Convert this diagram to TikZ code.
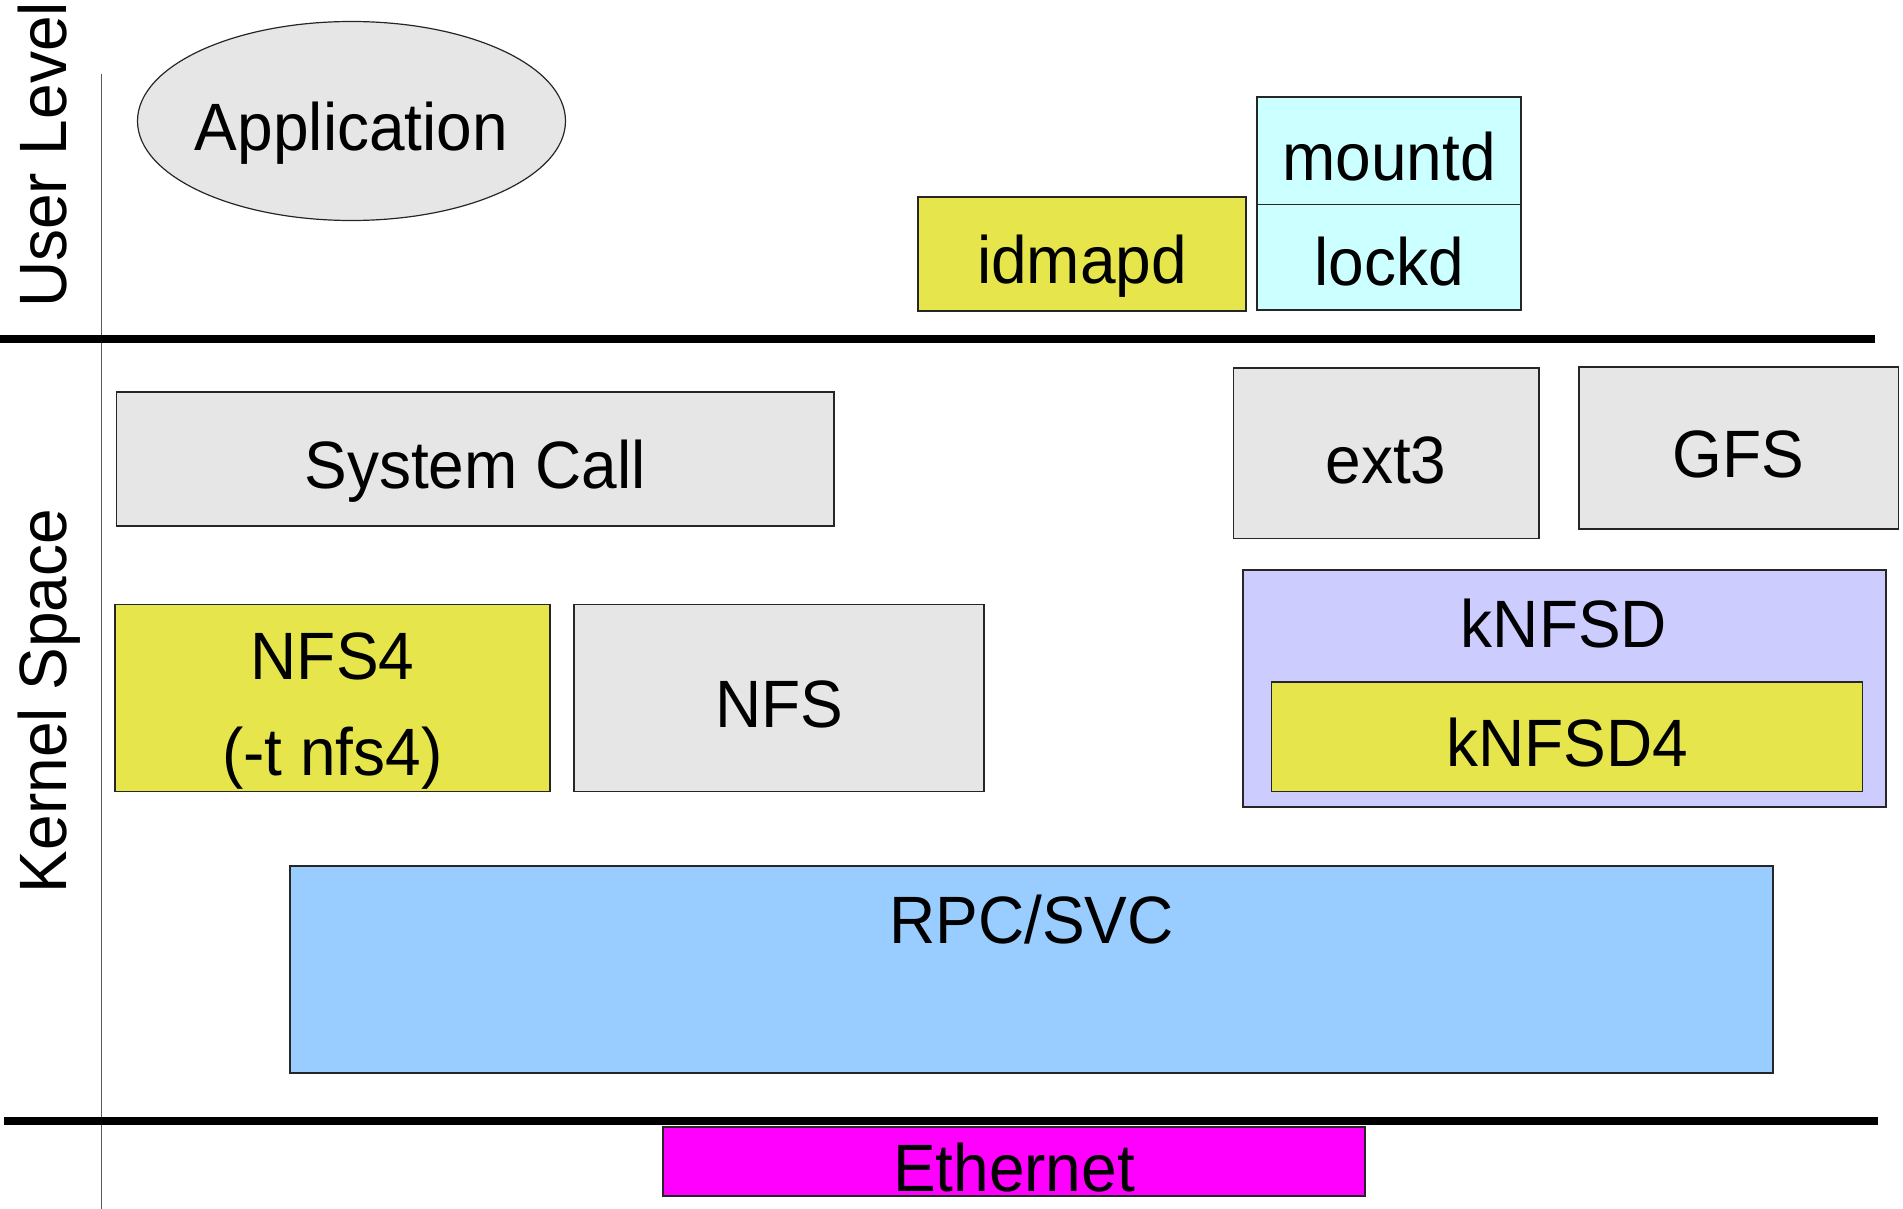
\documentclass[tikz,border=0pt]{standalone}
\usepackage{fontspec}
\setmainfont{Liberation Sans}[FakeStretch=0.955]
\usetikzlibrary{shapes.geometric}
\definecolor{boxgray}{HTML}{E6E6E6}
\definecolor{boxyellow}{HTML}{E6E64C}
\definecolor{boxcyan}{HTML}{CCFFFF}
\definecolor{boxlav}{HTML}{CCCCFF}
\definecolor{boxblue}{HTML}{99CCFF}
\definecolor{boxmag}{HTML}{FF00FF}
\tikzset{
  lbl/.style={font=\fontsize{67}{80}\selectfont, inner sep=0pt, outer sep=0pt, anchor=base},
  vlbl/.style={lbl, rotate=90},
  blk/.style={draw=black!85, line width=1.2pt, inner sep=0pt, outer sep=0pt, rectangle},
  sep/.style={line width=7.5pt, black},
  axis/.style={line width=1.3pt, black!65}
}
\newcommand{\blkbox}[6]{% name, fill, x1, x2, y1, y2
  \node[blk, fill=#2, minimum width={(#4)-(#3)}, minimum height={(#6)-(#5)}] (#1) at ({((#3)+(#4))/2},{((#5)+(#6))/2}) {};}
\begin{document}
\begin{tikzpicture}[x=1pt,y=-1pt]
\useasboundingbox (0,0) rectangle (1903,1209);
% axis and separators
\draw[axis] (101.5,74) -- (101.5,1209);
\draw[sep] (0,339) -- (1875,339);
\draw[sep] (4,1121) -- (1878,1121);
% side labels
\node[vlbl] (ul) at (66,155) {User Level};
\node[vlbl] (ks) at (66,701) {Kernel Space};
% user level
\node[ellipse, draw=black!85, line width=1.2pt, fill=boxgray, minimum width=428pt, minimum height=199pt, inner sep=0pt] (app) at (351.5,121) {};
\node[lbl] (tapp) at (351.5,151) {Application};
\blkbox{idmapd}{boxyellow}{918}{1246}{197}{311}
\node[lbl] (tidmapd) at (1082,283) {idmapd};
\blkbox{mountd}{boxcyan}{1257}{1521}{97}{204.3}
\node[lbl] (tmountd) at (1389,181) {mountd};
\blkbox{lockd}{boxcyan}{1257}{1521}{204.3}{310}
\node[lbl] (tlockd) at (1389,285) {lockd};
% kernel space
\blkbox{syscall}{boxgray}{116.5}{834}{392}{526}
\node[lbl] (tsyscall) at (475,488) {System Call};
\blkbox{ext}{boxgray}{1233.5}{1539}{368}{538.5}
\node[lbl] (text) at (1386,483) {ext3};
\blkbox{gfs}{boxgray}{1579}{1898.5}{367}{529}
\node[lbl] (tgfs) at (1738.5,477) {GFS};
\blkbox{knfsd}{boxlav}{1243}{1886}{570}{807}
\node[lbl] (tknfsd) at (1564,647) {kNFSD};
\blkbox{knfsdf}{boxyellow}{1271.5}{1862.5}{682}{791.5}
\node[lbl] (tknfsdf) at (1567,766) {kNFSD4};
\blkbox{nfsf}{boxyellow}{115}{550}{604.5}{791.5}
\node[lbl] (tnfsf) at (332.5,679) {NFS4};
\node[lbl] (tnfsfopt) at (332.5,775) {(-t nfs4)};
\blkbox{nfs}{boxgray}{574}{984}{604.5}{791.5}
\node[lbl] (tnfs) at (779,727) {NFS};
\blkbox{rpc}{boxblue}{290}{1773}{866}{1073}
\node[lbl] (trpc) at (1031.5,943) {RPC/SVC};
% network
\blkbox{eth}{boxmag}{663}{1365}{1127}{1196}
\node[lbl] (teth) at (1014,1191) {Ethernet};
\end{tikzpicture}
\end{document}
